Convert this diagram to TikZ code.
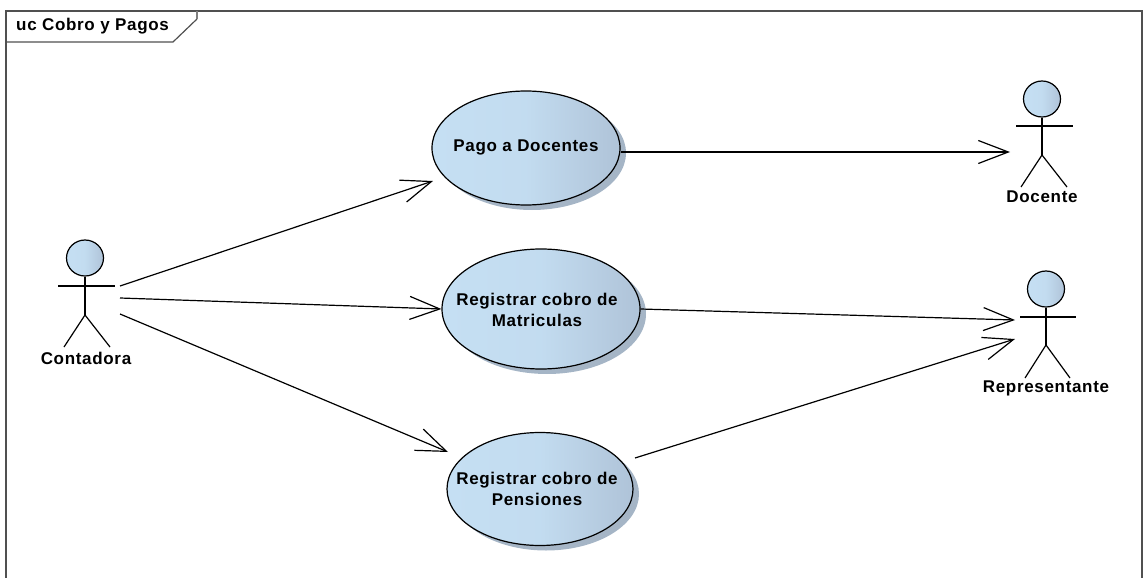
\documentclass[tikz,border=0pt]{standalone}
\usepackage{fontspec}
\setmainfont{Liberation Sans}
\usetikzlibrary{arrows.meta,positioning,shapes.geometric}

\begin{document}
\begin{tikzpicture}[
    x=1pt, y=-1pt,
    usecase/.style={ellipse, draw=black, line width=1.2pt, left color=ucleft, right color=ucright, middle color=ucleft!88!ucright, inner sep=0pt},
    ucshadow/.style={ellipse, fill=shadowblue, draw=none, inner sep=0pt},
    head/.style={ellipse, draw=black, line width=1.2pt, left color=ucleft, right color=ucright, middle color=ucleft!88!ucright, minimum width=37pt, minimum height=36pt, inner sep=0pt},
    txt/.style={font=\bfseries\fontsize{17}{19}\addfontfeatures{LetterSpace=4}\selectfont, text=black, align=center, inner sep=0pt},
    limb/.style={draw=black, line width=1.2pt},
    assoc/.style={draw=black, line width=1.2pt, -{Straight Barb[length=30pt,width=23pt,line width=1.2pt]}},
]
\definecolor{ucleft}{HTML}{C5DFF3}
\definecolor{ucright}{HTML}{AFC3D8}
\definecolor{shadowblue}{HTML}{A5B5C6}
\definecolor{framegray}{HTML}{505050}
\useasboundingbox (0,0) rectangle (1144,578);

% frame
\draw[framegray, line width=1.2pt] (6,578) -- (6,11) -- (1142,11) -- (1142,578);
\draw[framegray, line width=1.2pt] (6,42) -- (173,42) -- (197,19);
\draw[gray, line width=1.6pt] (197,19) -- (197,11);
\node[txt, anchor=west] (title) at (16,26) {uc Cobro y Pagos};

% shadows
\node[ucshadow, minimum width=188pt, minimum height=114pt] (pagoshade) at (532,153) {};
\node[ucshadow, minimum width=198pt, minimum height=120pt] (matshade) at (547,314) {};
\node[ucshadow, minimum width=186pt, minimum height=113pt] (penshade) at (546,494) {};

% use cases
\node[usecase, minimum width=188pt, minimum height=114pt] (pago) at (526,148) {};
\node[txt] (pagotxt) at (526,147) {Pago a Docentes};
\node[usecase, minimum width=198pt, minimum height=120pt] (matricula) at (541,309) {};
\node[txt] (matriculatxt) at (537,310) {Registrar cobro de\\[2pt]Matriculas};
\node[usecase, minimum width=186pt, minimum height=113pt] (pension) at (540,489) {};
\node[txt] (pensiontxt) at (537,489) {Registrar cobro de\\[2pt]Pensiones};

% contadora
\node[head] (contadora) at (85,258) {};
\draw[limb] (contadora.south) -- (85,315) (58,286) -- (115,286);
\draw[limb] (64,347) -- (85,315) -- (110,347);
\node[txt] (contadoratxt) at (86,358) {Contadora};

% docente
\node[head] (docente) at (1042,99) {};
\draw[limb] (docente.south) -- (1042,155) (1016,126) -- (1073,126);
\draw[limb] (1021,187) -- (1042,155) -- (1067,187);
\node[txt] (docentetxt) at (1042,197) {Docente};

% representante
\node[head] (representante) at (1046,289) {};
\draw[limb] (representante.south) -- (1046,345) (1020,317) -- (1076,317);
\draw[limb] (1025,378) -- (1046,345) -- (1070,378);
\node[txt] (representantetxt) at (1046,388) {Representante};

% free ends of the connectors
\coordinate (c1) at (120,286);
\coordinate (c2) at (120,298);
\coordinate (c3) at (120,314);
\coordinate (p1) at (433,181);
\coordinate (p3) at (448,452);
\coordinate (p4) at (635,458);
\coordinate (d1) at (1010,152);
\coordinate (r1) at (1015,320);
\coordinate (r2) at (1015,339);

\draw[assoc] (c1) -- (p1);
\draw[assoc] (c2) -- (matricula.west);
\draw[assoc] (c3) -- (p3);
\draw[assoc] (pago.east |- d1) -- (d1);
\draw[assoc] (matricula.east) -- (r1);
\draw[assoc] (p4) -- (r2);

\end{tikzpicture}
\end{document}
